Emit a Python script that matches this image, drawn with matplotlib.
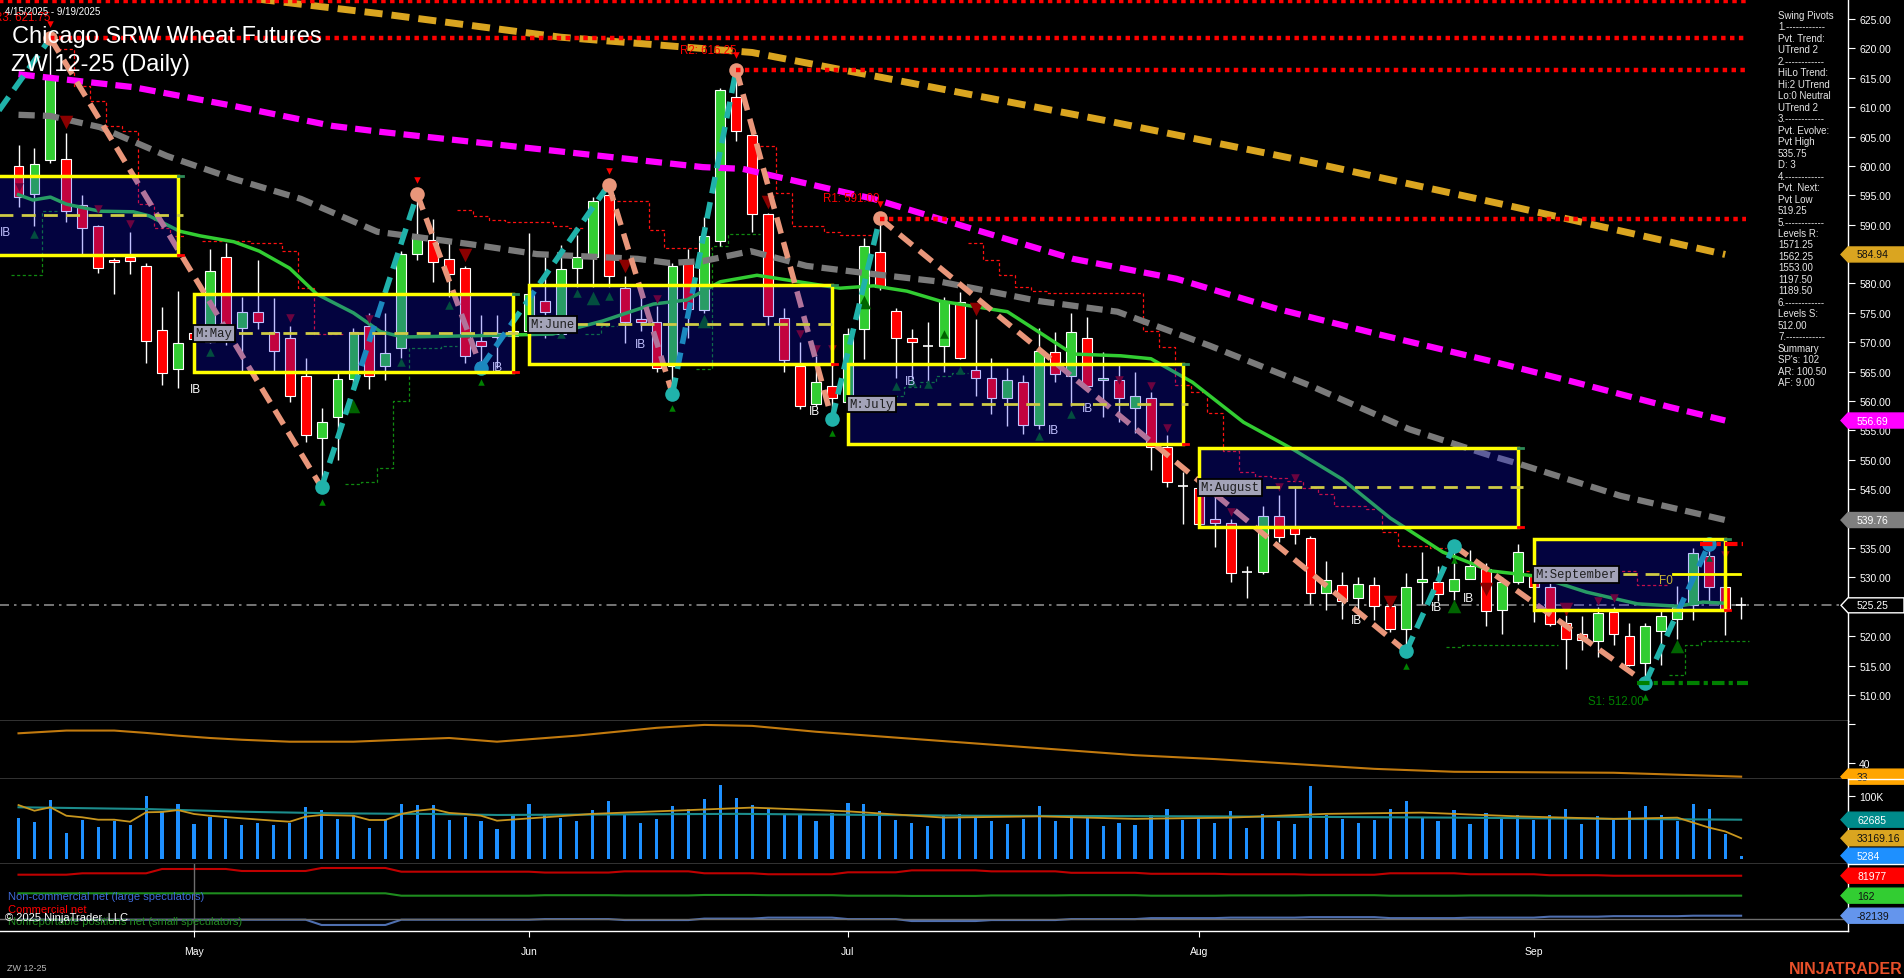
import numpy as np
import matplotlib.pyplot as plt
import matplotlib.transforms as mtransforms
from matplotlib.patches import Polygon, Rectangle
from matplotlib.lines import Line2D
from matplotlib.ticker import FormatStrFormatter

plt.rcParams['font.family'] = ['Liberation Sans', 'DejaVu Sans']

W, H = 1904, 979

# ---------------- daily bars, Apr 15 .. Sep 19 2025 ----------------
opens = [600.0, 595.3, 601.0, 601.1, 593.4, 589.8, 584.0, 584.5, 583.0, 572.1,
         565.5, 571.5, 570.0, 584.5, 572.4, 575.1, 571.7, 570.7, 564.3, 553.7,
         557.3, 563.8, 572.8, 566.0, 569.1, 585.1, 587.4, 584.2, 582.6, 570.2,
         571.6, 571.0, 572.0, 577.1, 571.4, 582.6, 584.5, 595.1, 579.2, 574.0,
         573.4, 566.0, 584.0, 575.5, 587.3, 611.7, 605.3, 591.9, 574.1, 566.0,
         559.5, 562.6, 559.8, 572.3, 585.4, 575.4, 570.8, 569.3, 569.3, 576.8,
         565.3, 563.9, 560.6, 563.3, 556.0, 568.4, 564.3, 570.7, 563.6, 563.5,
         558.9, 560.6, 552.1, 545.6, 545.2, 539.9, 539.2, 530.9, 530.9, 540.4,
         538.8, 536.7, 527.3, 528.7, 526.5, 528.7, 525.2, 521.2, 529.2, 529.3,
         527.7, 529.8, 531.4, 524.5, 529.2, 530.3, 528.3, 522.2, 520.4, 519.1,
         524.1, 520.1, 515.4, 520.8, 523.0, 525.3, 533.6, 528.3, 525.25]
highs = [603.6, 603.0, 621.75, 605.6, 595.0, 590.0, 584.3, 588.8, 583.5, 576.0,
         578.7, 573.0, 585.9, 586.9, 577.7, 584.0, 577.5, 572.8, 567.3, 558.9,
         564.9, 572.4, 575.0, 575.0, 585.5, 595.2, 591.0, 587.4, 582.9, 574.7,
         574.7, 574.0, 588.6, 584.5, 586.5, 588.3, 594.7, 596.8, 581.2, 578.2,
         576.2, 583.5, 585.9, 591.3, 613.2, 616.4, 606.0, 592.0, 575.8, 570.1,
         567.6, 570.0, 572.5, 587.8, 591.1, 575.8, 572.3, 573.5, 577.7, 578.5,
         573.9, 567.4, 565.7, 564.5, 572.5, 571.7, 574.9, 574.3, 568.3, 566.1,
         564.9, 561.5, 554.2, 547.9, 546.0, 545.0, 540.0, 532.0, 542.2, 544.0,
         545.6, 537.1, 532.8, 530.9, 530.1, 530.1, 526.0, 530.8, 534.3, 531.9,
         535.4, 534.6, 532.5, 530.0, 535.6, 531.0, 529.0, 523.6, 523.5, 524.9,
         525.0, 522.2, 522.2, 524.5, 528.5, 535.0, 535.75, 528.5, 526.6]
lows = [593.0, 589.8, 600.5, 590.4, 584.6, 581.8, 578.2, 581.6, 566.4, 562.8,
        562.3, 569.5, 569.8, 569.5, 565.0, 572.3, 565.0, 559.9, 553.1, 545.3,
        549.9, 562.3, 562.0, 563.6, 567.3, 584.0, 580.3, 577.7, 566.5, 565.7,
        565.7, 569.0, 570.0, 570.8, 571.0, 579.4, 579.4, 579.4, 569.9, 572.0,
        565.0, 561.2, 570.8, 575.0, 586.3, 604.3, 588.7, 573.0, 564.9, 558.6,
        559.1, 556.9, 559.0, 567.2, 578.9, 564.0, 563.2, 563.2, 564.9, 567.2,
        560.9, 557.8, 555.8, 554.4, 555.3, 563.2, 559.2, 562.4, 557.3, 556.4,
        554.6, 548.3, 545.3, 539.1, 539.0, 535.2, 529.3, 526.5, 530.5, 536.1,
        535.6, 525.5, 524.5, 523.0, 524.7, 522.8, 520.7, 518.0, 525.5, 526.0,
        526.1, 529.7, 521.8, 520.4, 528.8, 522.4, 521.8, 514.5, 517.7, 516.4,
        518.5, 514.9, 512.0, 515.1, 519.6, 522.7, 526.0, 520.2, 522.9]
closes = [594.7, 600.4, 614.9, 592.4, 589.4, 582.6, 583.6, 583.9, 570.2, 564.8,
          569.8, 570.5, 582.1, 571.0, 575.1, 573.4, 568.5, 560.8, 554.3, 556.4,
          563.8, 571.7, 564.3, 568.1, 585.1, 587.7, 583.6, 581.7, 567.6, 569.3,
          570.9, 572.0, 578.2, 575.1, 582.5, 584.5, 594.0, 581.2, 573.5, 573.4,
          565.6, 582.9, 575.7, 588.1, 612.9, 605.9, 591.9, 574.4, 566.9, 559.1,
          563.2, 560.6, 571.4, 586.3, 579.4, 570.8, 570.1, 569.3, 577.1, 567.4,
          563.9, 560.5, 563.6, 555.9, 568.6, 564.6, 571.7, 562.6, 563.9, 560.6,
          560.8, 552.1, 546.2, 545.6, 539.1, 539.2, 530.7, 530.9, 540.5, 536.8,
          537.3, 527.3, 529.6, 525.9, 528.9, 525.2, 521.3, 528.3, 529.8, 527.2,
          529.8, 531.9, 524.3, 529.2, 534.4, 528.3, 522.1, 519.6, 519.4, 523.9,
          520.4, 515.1, 521.7, 523.5, 525.0, 534.2, 528.3, 524.6, 525.25]

month_tick_bars = [11, 32, 52, 74, 95]
month_tick_labels = ['May', 'Jun', 'Jul', 'Aug', 'Sep']

# moving averages (bar index, value)
ma_gold_bars = [10, 23, 34, 46, 68, 80, 93, 107]
ma_gold_vals = [630.0, 625.8, 621.9, 619.3, 607.8, 601.2, 593.5, 584.94]
ma_magenta_bars = [0, 7.2, 13.5, 19.7, 22.7, 32.5, 42.9, 45.4, 53.6, 59.8, 66.1, 72.6,
                   78.9, 85.2, 92.3, 97.3, 103.5, 107]
ma_magenta_vals = [615.6, 613.4, 610.2, 606.8, 605.8, 602.9, 599.8, 599.5, 594.4, 589.3, 584.2,
                   580.8, 575.7, 571.4, 566.8, 563.4, 559.0, 556.69]
ma_gray_bars = [0, 2, 5.1, 9.3, 13.5, 17.7, 22.5, 28.3, 32.5, 38.8, 40.8, 42.9, 45.9, 49.4,
                53.6, 57.8, 64.0, 68.9, 74.7, 81.0, 87.2, 92.3, 94.1, 100.4, 107]
ma_gray_vals = [608.7, 608.5, 606.6, 601.7, 597.8, 594.4, 588.8, 586.7, 585.0, 584.2, 583.5,
                583.8, 585.5, 583.0, 581.6, 580.3, 577.0, 575.2, 569.4, 562.6, 555.2, 550.7,
                549.3, 543.9, 539.76]
ma_green_bars = [0, 0.9, 2, 3, 5.1, 7.2, 8.2, 10.1, 11.4, 13.5, 15.1, 17, 18.7, 21, 22.7,
                 24.1, 28.3, 33.5, 36.6, 39.8, 41.9, 44, 46.3, 51.5, 53.6, 55.7, 57.8, 62, 64,
                 66.1, 69.1, 71, 73.6, 76.8, 79.9, 83, 86, 89.3, 92.3, 95.2, 98.3, 101.5, 104,
                 105.6, 107]
ma_green_vals = [595.1, 594.2, 594.7, 593.5, 592.3, 592.2, 591.5, 588.9, 588.1, 587.1, 585.5,
                 582.6, 578.2, 575.0, 571.8, 570.9, 571.1, 571.4, 573.6, 576.5, 577.2, 580.3,
                 581.4, 579.2, 579.6, 578.7, 577.0, 575.2, 571.7, 568.0, 567.7, 567.2, 563.2,
                 556.4, 551.8, 546.7, 540.1, 534.3, 531.1, 530.2, 527.5, 525.5, 525.1, 525.8,
                 525.6]

# monthly initial-balance boxes
box_names = ['April', 'May', 'June', 'July', 'August', 'September']
box_start = [-11, 11, 32, 52, 74, 95]
box_end = [10, 31, 51, 73, 94, 107]
box_top = [598.3, 578.2, 579.8, 566.3, 552.0, 536.5]
box_bot = [584.9, 564.9, 566.3, 552.7, 538.6, 524.5]

# swing pivots
swing_bars = [-5, 2, 19, 25, 29, 37, 41, 45, 51, 54, 87, 90, 102, 106]
swing_prices = [595.0, 621.75, 545.3, 595.2, 565.7, 596.8, 561.2, 616.4, 556.9, 591.1,
                517.4, 535.4, 512.1, 535.75]

# trailing stop steps (first bar, levels)
red_stop_runs = [
    (3, [619.9, 613.6, 611.0, 606.8, 605.9, 593.5, 589.4, 588.1]),
    (12, [587.2, 587.2, 587.2, 586.9, 586.9, 585.5, 579.2, 571.4, 571.4]),
    (28, [592.5, 591.5, 590.8, 590.4, 590.4, 590.4, 589.8, 589.4]),
    (38, [594.0, 594.0, 589.1, 586.0, 586.0, 586.0]),
    (47, [603.4, 595.4, 589.8, 589.8, 588.7, 588.3, 588.3]),
    (60, [586.9, 584.0, 581.4, 579.4, 578.7, 578.4, 578.4, 578.4, 578.4, 578.4, 578.4,
          571.9, 569.2, 562.7, 561.5, 558.0, 551.5, 547.9, 547.3, 546.9, 546.4, 545.2,
          544.2, 542.1, 542.1, 541.6, 537.7, 535.3, 535.3, 535.0]),
    (95, [531.1, 531.1, 531.1, 531.1, 531.1, 531.1, 531.1, 528.7, 528.7]),
]
green_stop_runs = [
    (0, [581.4, 581.4, 592.4]),
    (21, [545.9, 546.2, 548.6, 560.0, 569.0, 569.0, 569.4]),
    (36, [571.4, 572.8]),
    (43, [565.5, 586.4, 588.4, 588.4]),
    (54, [560.9, 560.9, 562.4, 563.2, 564.3, 564.8]),
    (90, [518.2, 518.5, 518.5, 518.5, 518.5, 518.5, 518.5]),
    (104, [513.4, 518.5, 519.2, 519.2, 519.2]),
]

# signal triangles (bar, price, big?)
down_tri_bars = [0, 3, 5, 7, 17, 22, 28, 38, 40, 47, 49, 50, 51, 60, 69, 71, 72, 76, 79, 80, 86, 92, 97, 99, 100, 107]
down_tri_prices = [596.4, 607.4, 592.7, 590.1, 574.2, 574.0, 584.9, 583.0, 577.4, 593.8, 571.4, 568.9, 568.9,
                   575.7, 563.5, 562.6, 555.5, 541.2, 545.3, 546.9, 525.8, 528.0, 524.6, 525.9, 526.5, 533.8]
down_tri_big = [0, 1, 0, 0, 0, 0, 1, 1, 0, 1, 0, 0, 0, 1, 0, 0, 0, 0, 0, 0, 1, 1, 1, 0, 0, 0]
up_tri_bars = [1, 12, 21, 24, 27, 34, 35, 36, 37, 43, 53, 55, 56, 57, 58, 59, 64, 66, 90, 104]
up_tri_prices = [588.4, 568.3, 559.2, 566.7, 576.4, 571.4, 578.4, 577.5, 577.9, 573.7, 576.9, 562.6,
                 563.2, 562.9, 571.4, 565.2, 554.1, 557.8, 525.2, 518.4]
up_tri_big = [0, 0, 1, 0, 0, 0, 0, 1, 0, 1, 1, 0, 0, 0, 0, 0, 0, 0, 1, 1]

ib_bars = [-0.8, 11.1, 30.0, 39.0, 49.9, 55.9, 64.9, 67.0, 83.9, 88.9, 90.9]
ib_prices = [588.8, 562.05, 565.8, 569.7, 558.3, 563.4, 555.1, 558.8, 522.8, 525.0, 526.5]

# pivot levels
res_names = ['', 'R3: 621.75', 'R2: 616.25', 'R1: 591.00']
res_levels = [628.0, 621.75, 616.25, 591.0]
res_from = [-2, 2, 45, 54]
s1_level = 512.0
pvt_high = 535.75
last_price = 525.25

pivot_text = ['Swing Pivots', '1.------------', 'Pvt. Trend:', 'UTrend 2', '2.------------',
              'HiLo Trend:', 'Hi:2 UTrend', 'Lo:0 Neutral', 'UTrend 2', '3.------------',
              'Pvt. Evolve:', 'Pvt High', '535.75', 'D: 3', '4.------------', 'Pvt. Next:',
              'Pvt Low', '519.25', '5.------------', 'Levels R:', '1571.25', '1562.25',
              '1553.00', '1197.50', '1189.50', '6.------------', 'Levels S:', '512.00',
              '7.------------', 'Summary', "SP's: 102", 'AR: 100.50', 'AF: 9.00']

# oscillator panel
osc_bars = [0, 3, 6, 8, 10, 12, 14, 17, 21, 24, 27, 30, 35, 40, 43, 46, 50, 55, 60, 65, 70, 75,
            80, 85, 90, 100, 108]
osc_vals = [55.2, 56.6, 56.6, 55.4, 54.0, 52.8, 51.9, 50.9, 50.9, 51.9, 52.8, 50.9, 54.0, 58.0,
            59.5, 59.0, 56.0, 53.0, 50.0, 47.0, 44.0, 42.0, 39.5, 37.0, 35.5, 35.0, 33.0]

# volume (thousands)
volume_k = [65.4, 58.5, 94.1, 41.5, 62.2, 50.5, 61.1, 54.2, 100.5, 76.1,
            87.7, 55.8, 67.5, 63.8, 54.2, 57.4, 54.2, 57.4, 83.4, 78.1,
            63.8, 70.2, 49.4, 63.8, 87.7, 86.1, 86.1, 62.2, 67.5, 60.6,
            47.8, 72, 88, 70, 66, 60, 78, 92, 70, 58,
            64, 84, 80, 96, 118, 98, 86, 80, 72, 70,
            60, 74, 90, 88, 76, 62, 58, 52, 70, 72,
            66, 60, 56, 64, 84, 60, 66, 70, 52, 58,
            54, 70, 80, 62, 66, 58, 76, 50, 72, 60,
            56, 117, 70, 64, 58, 62, 80, 92, 66, 60,
            78, 56, 74, 66, 70, 62, 70, 80, 56, 68,
            62, 76, 84, 70, 60, 88, 80, 40, 5.284]
oi_bars = [0, 8, 14, 20, 26, 30, 45, 60, 75, 90, 100, 108]
oi_vals = [82.5, 79.7, 75.4, 72.8, 71.8, 70.2, 72.0, 69.0, 68.0, 66.0, 64.0, 62.685]
vavg_bars = [0, 1, 2, 3, 4, 5, 6, 7, 8, 9, 10, 11, 12, 14, 16, 17, 18, 19, 21, 22, 23, 24, 25,
             26, 27, 28, 29, 30, 36, 42, 46, 52, 58, 64, 70, 76, 82, 88, 94, 100, 104, 106, 107, 108]
vavg_vals = [86, 77, 82.5, 69, 66.5, 62.7, 62.7, 59.5, 74.5, 75, 78, 71.8, 69, 64.9, 61.1, 59.5,
             67.5, 70.2, 69, 62.2, 62.2, 71.8, 77, 79.7, 73.5, 71.8, 69, 61.1, 72, 78, 82, 76,
             66, 68, 64, 66, 72, 74, 68, 64, 66, 50, 44, 33.17]

# COT weekly values (thousands)
week_start = [0, 3, 8, 13, 18, 23, 28, 32, 37, 42, 46, 51, 55, 60, 65, 70, 75, 80, 85, 90, 95, 99, 104]
cot_comm = [86.2, 91.9, 109.6, 101.4, 113.7, 98.5, 98.5, 95, 100, 92, 88, 96, 104, 100, 94, 90, 88,
            86, 92, 88, 84, 82, 81.977]
cot_small = [9.8, 9.8, 9.8, 9.8, 9.8, 0.0, 0.0, 2, 1, 3, 2, 0, -1, 1, 2, 0, 1, 2, 0, 1, 0, 0, 0.162]
cot_large = [-98.5, -98.5, -98.5, -98.5, -120.2, -98.5, -98.5, -96, -100, -94, -90, -96, -104, -100,
             -96, -92, -90, -88, -92, -90, -86, -84, -82.139]

# ---------------- figure ----------------
fig = plt.figure(figsize=(W / 100, H / 100), dpi=100, facecolor='black')


def px_axes(x0, y0, x1, y1):
    a = fig.add_axes([x0 / W, 1 - y1 / H, (x1 - x0) / W, (y1 - y0) / H])
    a.set_facecolor('black')
    for s in ('left', 'top'):
        a.spines[s].set_visible(False)
    for s in ('right', 'bottom'):
        a.spines[s].set_color('white')
        a.spines[s].set_linewidth(1)
    a.set_xlim(-1.16, 114.7)
    a.tick_params(axis='x', bottom=False, labelbottom=False)
    a.tick_params(axis='y', left=False, labelleft=False, right=True, labelright=True,
                  colors='white', labelsize=7.5, length=5, pad=3)
    return a


ax = px_axes(0, 0, 1848, 722)
ax2 = px_axes(0, 722, 1848, 780)
ax3 = px_axes(0, 780, 1848, 865)
ax4 = px_axes(0, 865, 1848, 932)
ax.set_ylim(505.57, 628.40)
ax2.set_ylim(31.8, 61.5)
ax3.set_ylim(-7975, 127592)
ax4.set_ylim(-144.9, 130.1)

for y in (780, 865):
    fig.add_artist(Line2D([1848 / W, 1], [1 - y / H] * 2, color='white', lw=1))


def tag(axis, ax_h, value, label, face, txt, edge=None):
    y0, y1 = axis.get_ylim()
    hh = 7.5 * (y1 - y0) / ax_h
    tr = mtransforms.blended_transform_factory(axis.transAxes, axis.transData)
    tip, end = 1 - 7 / 1848, 1 + 56 / 1848
    axis.add_patch(Polygon([(tip, value), (1, value + hh), (end, value + hh), (end, value - hh),
                            (1, value - hh)], closed=True, transform=tr, facecolor=face,
                           edgecolor=edge or face, lw=1, clip_on=False, zorder=20))
    axis.text(1 + 9 / 1848, value, label, transform=tr, color=txt, fontsize=7.5,
              va='center', ha='left', clip_on=False, zorder=21)


# ---- price panel ----
bars = np.arange(len(opens))
o, h, l, c = map(np.array, (opens, highs, lows, closes))

ax.plot([-2, 116], [last_price] * 2, color='#8A8A8A', lw=1.2, ls=(0, (6, 3, 1.5, 3)), zorder=1.5)

for b0, lv in red_stop_runs:
    xs = list(np.arange(b0, b0 + len(lv)) - 0.5) + [b0 + len(lv) - 0.5]
    ax.plot(xs, lv + [lv[-1]], drawstyle='steps-post', color='#FF1010', lw=0.9, ls=(0, (2.5, 2)), zorder=2)
for b0, lv in green_stop_runs:
    xs = list(np.arange(b0, b0 + len(lv)) - 0.5) + [b0 + len(lv) - 0.5]
    ax.plot(xs, lv + [lv[-1]], drawstyle='steps-post', color='#108A10', lw=0.9, ls=(0, (2.5, 2)), zorder=2)

ax.vlines(bars, l, h, color='white', lw=1, zorder=2.5)
up = c > o
dn = c < o
dj = ~(up | dn)
ax.bar(bars[up], (c - o)[up], bottom=o[up], width=0.62, color='#32CD32', edgecolor='white', lw=0.8, zorder=3)
ax.bar(bars[dn], (o - c)[dn], bottom=c[dn], width=0.62, color='#FF0000', edgecolor='white', lw=0.8, zorder=3)
ax.hlines(c[dj], bars[dj] - 0.31, bars[dj] + 0.31, color='white', lw=1.2, zorder=3)

ax.plot(ma_gold_bars, ma_gold_vals, color='#DAA520', lw=5, ls=(0, (2.6, 1.3)), zorder=4)
ax.plot(ma_magenta_bars, ma_magenta_vals, color='#FF00FF', lw=4.5, ls=(0, (2.6, 1.3)), zorder=4)
ax.plot(ma_gray_bars, ma_gray_vals, color='#7A7A7A', lw=4.5, ls=(0, (2.6, 1.3)), zorder=4)
ax.plot(ma_green_bars, ma_green_vals, color='#32CD32', lw=2.5, zorder=4)

for b, p, big in zip(down_tri_bars, down_tri_prices, down_tri_big):
    ax.scatter(b, p, marker='v', s=95 if big else 38, color='#8B0000', lw=0, zorder=4.5)
for b, p, big in zip(up_tri_bars, up_tri_prices, up_tri_big):
    ax.scatter(b, p, marker='^', s=95 if big else 38, color='#006400', lw=0, zorder=4.5)

for i in range(len(swing_bars) - 1):
    rising = swing_prices[i + 1] > swing_prices[i]
    ax.plot(swing_bars[i:i + 2], swing_prices[i:i + 2], color='#20B2AA' if rising else '#E9967A',
            lw=4, ls=(0, (3, 1.6)), zorder=5, solid_capstyle='butt')
for b, p in zip(swing_bars[1:], swing_prices[1:]):
    is_high = p >= max(swing_prices[max(0, swing_bars.index(b) - 1)], p)
    hi = p > 540 and b in (2, 25, 37, 45, 54, 90, 106)
    ax.scatter(b, p, s=110, color='#E9967A' if hi else '#20B2AA', lw=0, zorder=5.5)
    ax.scatter(b, p + 2.4 if hi else p - 2.4, marker='v' if hi else '^', s=22,
               color='#FF0000' if hi else '#008000', lw=0, zorder=5.5)

for b, p in zip(ib_bars, ib_prices):
    ax.text(b, p, 'IB', color='white', fontsize=8.5, ha='center', va='center', zorder=5.6, clip_on=True)

for i, name in enumerate(box_names):
    x0, x1 = box_start[i], box_end[i]
    ax.add_patch(Rectangle((x0, box_bot[i]), x1 - x0, box_top[i] - box_bot[i], facecolor=(0.05, 0.05, 1.0),
                           alpha=0.25, lw=0, zorder=6))
    ax.add_patch(Rectangle((x0, box_bot[i]), x1 - x0, box_top[i] - box_bot[i], fill=False,
                           edgecolor='#FFFF00', lw=2.5, zorder=7))
    mid = (box_top[i] + box_bot[i]) / 2
    if name == 'September':
        ax.plot([x0, 103.2], [mid] * 2, color='#CFCB45', lw=2, ls=(0, (5, 3)), zorder=7)
        ax.plot([103.7, 107.9], [mid] * 2, color='#FFFF00', lw=2, zorder=7)
        ax.text(103.3, mid - 0.9, 'F0', color='#C8B432', fontsize=8.5, ha='center', va='center', zorder=8)
    else:
        ax.plot([x0, x1 + 0.3], [mid] * 2, color='#CFCB45', lw=2, ls=(0, (5, 3)), zorder=7)
    ax.plot([x1, x1 + 0.3], [box_top[i]] * 2, color='#2E8B57', lw=2, zorder=7)
    ax.plot([x1, x1 + 0.3], [box_bot[i]] * 2, color='#FF0000', lw=2, zorder=7)
    ax.text(x0 + 0.1, mid, 'M:' + name, family='Liberation Mono', fontsize=8.8, color='#1E1E1E',
            ha='left', va='center', zorder=8, clip_on=True,
            bbox=dict(boxstyle='square,pad=0.2', fc='#A3A3B8', ec='black', lw=1.3))

for name, lev, b0 in zip(res_names, res_levels, res_from):
    ax.plot([b0, 108.3], [lev] * 2, color='#FF0000', lw=3.2, ls=(0, (1, 1)), zorder=8)
    if name:
        ax.text(b0, lev + 2.5, name, color='#FF0000', fontsize=8.3, ha='right', va='bottom', zorder=8)
ax.plot([101.5, 108.4], [s1_level] * 2, color='#008000', lw=3, ls=(0, (3, 1, 1, 1)), zorder=8)
ax.text(101.9, s1_level - 2.0, 'S1: 512.00', color='#008000', fontsize=8.3, ha='right', va='top', zorder=8)
ax.plot([105.4, 108.1], [pvt_high] * 2, color='#FF0000', lw=3, ls=(0, (3, 1, 1, 1)), zorder=8)

ax.set_yticks(np.arange(510, 626, 5))
ax.yaxis.set_major_formatter(FormatStrFormatter('%.2f'))

for k, line in enumerate(pivot_text):
    ax.text(1778 / 1848, 1 - (15.7 + 11.49 * k) / 722, line, transform=ax.transAxes,
            color='#E6E6E6', fontsize=7, ha='left', va='center', zorder=9)

tag(ax, 722, 584.94, '584.94', '#DAA520', '#111111')
tag(ax, 722, 556.69, '556.69', '#FF00FF', 'white')
tag(ax, 722, 539.76, '539.76', '#7F7F7F', 'white')
tag(ax, 722, last_price, '525.25', 'black', 'white', edge='white')

# ---- oscillator panel ----
ax2.plot(osc_bars, osc_vals, color='#C27A0E', lw=1.5)
ax2.set_yticks([40, 60])
ax2.set_yticklabels(['40', ''])
tag(ax2, 58, 33, '33', '#FFA500', '#222222')

# ---- volume panel ----
ax3.bar(bars, np.array(volume_k) * 1000, width=0.2, color='#1E90FF', lw=0)
ax3.plot(oi_bars, np.array(oi_vals) * 1000, color='#1C8C8C', lw=1.5)
ax3.plot(vavg_bars, np.array(vavg_vals) * 1000, color='#C8961E', lw=1.3)
ax3.set_yticks([100000])
ax3.set_yticklabels(['100K'])
tag(ax3, 85, 62685, '62685', '#008B8B', 'white')
tag(ax3, 85, 33169.16, '33169.16', '#DAA520', '#111111')
tag(ax3, 85, 5284, '5284', '#1E90FF', 'white')

# ---- COT panel ----
week_idx = np.searchsorted(week_start, np.maximum(bars - 1, 0), side='right') - 1
ax4.plot(bars, np.array(cot_comm)[week_idx], color='#C00000', lw=1.5)
ax4.plot(bars, np.array(cot_small)[week_idx], color='#1E8C1E', lw=1.5)
ax4.plot(bars, np.array(cot_large)[week_idx], color='#4F6FB0', lw=1.5)
ax4.axhline(-96, color='#6E6E6E', lw=1)
ax4.axvline(11, color='#6E6E6E', lw=1)
ax4.set_yticks([])
ax4.set_xticks(month_tick_bars)
ax4.set_xticklabels(month_tick_labels)
ax4.tick_params(axis='x', bottom=True, labelbottom=True, colors='white', labelsize=7.5, length=4, pad=7)
tag(ax4, 67, 81.977, '81977', '#FF0000', 'white')
tag(ax4, 67, 0.162, '162', '#32CD32', '#111111')
tag(ax4, 67, -82.139, '-82139', '#6495ED', '#111111')

fig.text(8 / W, 1 - 897.3 / H, 'Non-commercial net (large speculators)', color='#3F6AD8', fontsize=8, va='center')
fig.text(8 / W, 1 - 910 / H, 'Commercial net', color='#FF0000', fontsize=8, va='center')
fig.text(8 / W, 1 - 922.3 / H, 'Nonreportable positions net (small speculators)', color='#228B22', fontsize=8,
         va='center')
fig.text(5 / W, 1 - 918.3 / H, '\u00a9 2025 NinjaTrader, LLC', color='white', fontsize=8, va='center')

# ---- titles ----
fig.text(5 / W, 1 - 15 / H, '4/15/2025 - 9/19/2025', color='white', fontsize=7, va='baseline')
fig.text(12 / W, 1 - 43.3 / H, 'Chicago SRW Wheat Futures', color='white', fontsize=17, va='baseline', zorder=30)
fig.text(11 / W, 1 - 70.7 / H, 'ZW 12-25 (Daily)', color='white', fontsize=17, va='baseline', zorder=30)
fig.text(7 / W, 1 - 969 / H, 'ZW 12-25', color='#BBBBBB', fontsize=6.5, va='center')
fig.text(1846 / W, 1 - 970 / H, 'NINJATRADER', color='#E8502A', fontsize=11.5, fontweight='bold',
         ha='center', va='center')

fig.savefig('out.png', dpi=100, facecolor='black')
